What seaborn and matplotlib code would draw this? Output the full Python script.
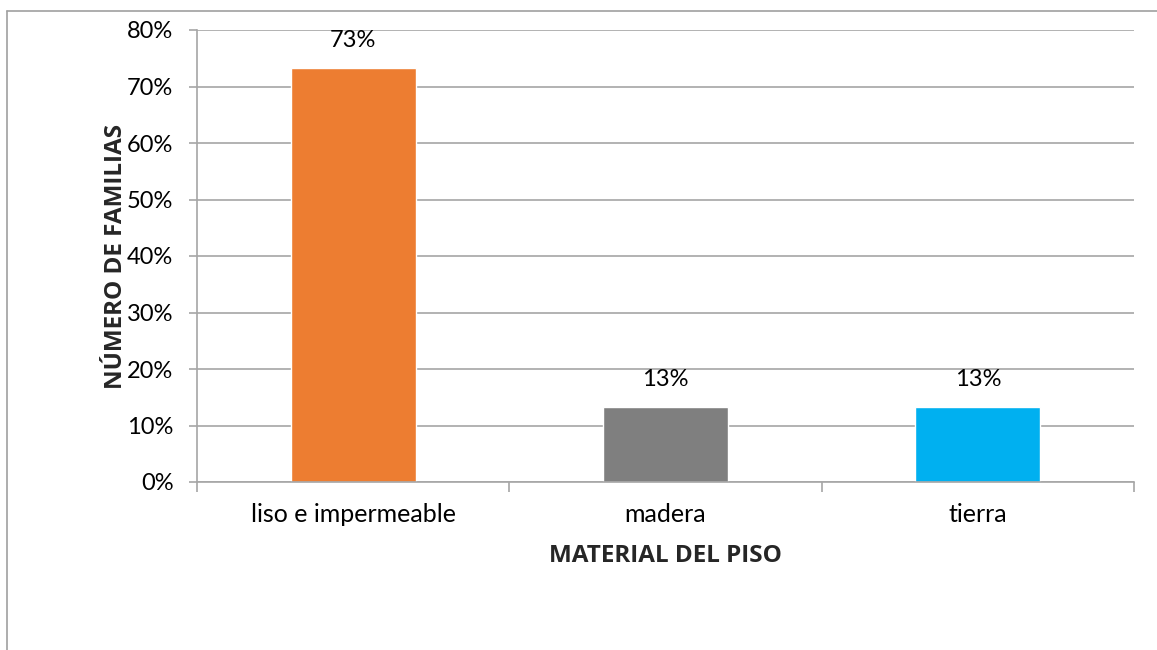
import matplotlib
matplotlib.use("Agg")
import matplotlib.pyplot as plt
import seaborn as sns
import pandas as pd
from matplotlib.lines import Line2D
from matplotlib.ticker import FixedLocator

categories = ["liso e impermeable", "madera", "tierra"]
values = [73.33, 13.33, 13.33]
labels = ["73%", "13%", "13%"]
colors = ["#ED7D31", "#7F7F7F", "#00B0F0"]
yticks = [0, 10, 20, 30, 40, 50, 60, 70, 80]
ytick_labels = ["0%", "10%", "20%", "30%", "40%", "50%", "60%", "70%", "80%"]

sns.set_theme(style="white")
plt.rcParams["font.family"] = ["Lato", "DejaVu Sans"]

df = pd.DataFrame({"cat": categories, "val": values})

W, H = 1157, 650
fig = plt.figure(figsize=(W / 100, H / 100), dpi=100)
ax = fig.add_axes([197 / W, 1 - 482 / H, (1134 - 197) / W, (482 - 30) / H])

sns.barplot(data=df, x="cat", y="val", hue="cat", palette=colors, order=categories,
            hue_order=categories, width=0.4, legend=False, ax=ax, saturation=1)

ax.set_ylim(0, 80)
ax.set_xlim(-0.5, 2.5)
ax.set_yticks(yticks)
ax.set_yticklabels(ytick_labels)
ax.yaxis.grid(True, color="#A6A6A6", linewidth=1.2)
ax.set_axisbelow(True)

for sp in ["top", "right"]:
    ax.spines[sp].set_visible(False)
for sp in ["left", "bottom"]:
    ax.spines[sp].set_color("#A6A6A6")
    ax.spines[sp].set_linewidth(1.2)

ax.tick_params(axis="y", which="major", length=6, width=1.2, color="#A6A6A6",
               labelsize=17, labelcolor="black", left=True, pad=11)
ax.tick_params(axis="x", which="major", length=0, labelsize=18, labelcolor="black", pad=15)
ax.xaxis.set_minor_locator(FixedLocator([-0.5, 0.5, 1.5, 2.5]))
ax.tick_params(axis="x", which="minor", length=7, width=1.2, color="#A6A6A6", bottom=True)

for i, (v, lab) in enumerate(zip(values, labels)):
    ax.text(i, v + 3.0, lab, ha="center", va="bottom", fontsize=17, color="black")

bold_font = dict(family=["Open Sans", "DejaVu Sans"], fontweight="bold", fontsize=17.5)
ax.set_xlabel("MATERIAL DEL PISO", labelpad=13, **bold_font)
ax.set_ylabel("NÚMERO DE FAMILIAS", labelpad=-1, **bold_font)

# outer chart border (top and left visible)
fig.add_artist(Line2D([7 / W, 7 / W], [0, 1 - 11 / H], transform=fig.transFigure,
                      color="#A0A0A0", linewidth=1.2))
fig.add_artist(Line2D([7 / W, 1], [1 - 11 / H, 1 - 11 / H], transform=fig.transFigure,
                      color="#A0A0A0", linewidth=1.2))

fig.savefig("out.png", dpi=100)
